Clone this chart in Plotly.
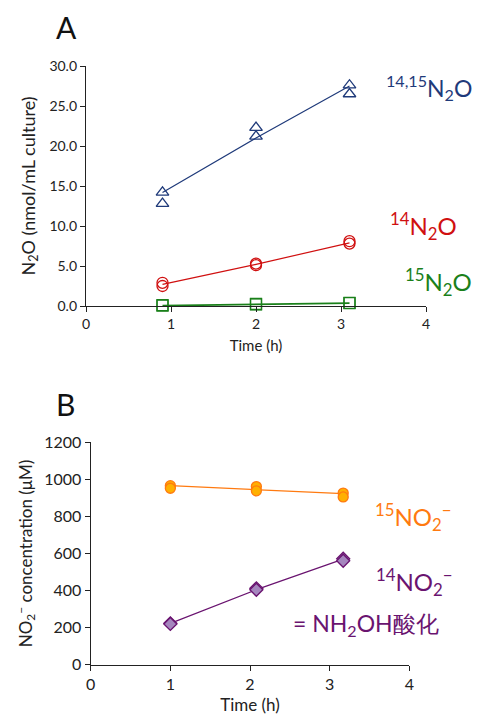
import plotly.graph_objects as go

# ---------------- Data: panel A (N2O) ----------------
time_a = [0.9, 2.0, 3.1]
n2o_1415_rep1 = [14.2, 22.3, 27.6]
n2o_1415_rep2 = [12.8, 21.2, 26.5]
n2o_1415_line = [14.2, 21.0, 27.5]
n2o_14_rep1 = [2.9, 5.3, 8.1]
n2o_14_rep2 = [2.5, 5.1, 7.8]
n2o_14_line = [2.7, 5.2, 7.9]
n2o_15_rep1 = [0.1, 0.25, 0.4]
n2o_15_rep2 = [0.05, 0.2, 0.35]
n2o_15_line = [0.05, 0.2, 0.35]

# ---------------- Data: panel B (NO2-) ----------------
time_b = [1.0, 2.08, 3.17]
no2_15_rep1 = [966, 961, 926]
no2_15_rep2 = [952, 938, 905]
no2_15_line = [966, 944, 923]
no2_14_rep1 = [223, 412, 572]
no2_14_rep2 = [220, 404, 561]
no2_14_line = [223, 405, 570]

x_ticks = [0, 1, 2, 3, 4]
ya_ticks = [0, 5, 10, 15, 20, 25, 30]
yb_ticks = [0, 200, 400, 600, 800, 1000, 1200]

BLUE = "#1F3A7A"
RED = "#D01010"
GREEN = "#1A801A"
ORANGE = "#FF7A10"
ORANGE_FILL = "#FFB000"
PURPLE = "#6A1470"
PURPLE_FILL = "#A586BE"
FONT = "Lato"

# page body has an 8px default margin
OFF = 8
W, H = 483 - OFF, 723 - OFF

fig = go.Figure()

def add_series(x, reps, line, color, symbol, size, xa, ya, fill=None, lw=1.2):
    fig.add_trace(go.Scatter(x=x, y=line, mode="lines", line=dict(color=color, width=lw),
                             xaxis=xa, yaxis=ya, showlegend=False, hoverinfo="skip",
                             cliponaxis=False))
    for r in reps:
        m = dict(symbol=symbol, size=size, color=fill if fill else color,
                 line=dict(color=color, width=1.3))
        fig.add_trace(go.Scatter(x=x, y=r, mode="markers", marker=m, cliponaxis=False,
                                 xaxis=xa, yaxis=ya, showlegend=False))

add_series(time_a, [n2o_1415_rep1, n2o_1415_rep2], n2o_1415_line, BLUE, "triangle-up-open", 11, "x", "y")
add_series(time_a, [n2o_14_rep1, n2o_14_rep2], n2o_14_line, RED, "circle-open", 11, "x", "y")
add_series(time_a, [n2o_15_rep1, n2o_15_rep2], n2o_15_line, GREEN, "square-open", 11, "x", "y", lw=1.8)
add_series(time_b, [no2_15_rep1, no2_15_rep2], no2_15_line, ORANGE, "circle", 10, "x2", "y2", fill=ORANGE_FILL)
add_series(time_b, [no2_14_rep1, no2_14_rep2], no2_14_line, PURPLE, "diamond", 10, "x2", "y2", fill=PURPLE_FILL)

def axis(size):
    return dict(showline=True, linecolor="#222", linewidth=1.3, ticks="outside",
                ticklen=5, tickcolor="#222", showgrid=False, zeroline=False,
                automargin=False, tickfont=dict(family=FONT, size=size, color="#222"))

def dx(a, b):
    return [(a - OFF) / W, (b - OFF) / W]

def dy(top, bottom):
    return [1 - (bottom - OFF) / H, 1 - (top - OFF) / H]

fig.update_layout(
    width=W, height=H, margin=dict(l=0, r=0, t=0, b=0),
    paper_bgcolor="white", plot_bgcolor="white",
    font=dict(family=FONT, color="#222"),
    xaxis=dict(domain=dx(86, 426), range=[0, 4], tickvals=x_ticks, anchor="y",
               title=dict(text="Time (h)", font=dict(size=15), standoff=9), **axis(14)),
    yaxis=dict(domain=dy(66, 306), range=[0, 30], tickvals=ya_ticks, tickformat=".1f", anchor="x",
               title=dict(text="N<sub>2</sub>O (nmol/mL culture)", font=dict(size=18), standoff=9),
               **axis(14)),
    xaxis2=dict(domain=dx(90.7, 409.3), range=[0, 4], tickvals=x_ticks, anchor="y2",
                title=dict(text="Time (h)", font=dict(size=17), standoff=7), **axis(16)),
    yaxis2=dict(domain=dy(442.3, 664.7), range=[0, 1200], tickvals=yb_ticks, anchor="x2",
                title=dict(text="NO<sub>2</sub><sup>−</sup> concentration (μM)", font=dict(size=17), standoff=7),
                **axis(16)),
)

def label(text, xp, yp, color, size, yanchor="middle"):
    fig.add_annotation(text=text, x=(xp - OFF) / W, y=1 - (yp - OFF) / H, xref="paper", yref="paper",
                       showarrow=False, xanchor="left", yanchor=yanchor, borderpad=0,
                       font=dict(family=FONT, size=size, color=color))

label("A", 55, OFF, "#111", 30, yanchor="top")
label("B", 55, 404, "#111", 30)
label("<sup>14,15</sup>N<sub>2</sub>O", 385, 88, BLUE, 23)
label("<sup>14</sup>N<sub>2</sub>O", 389, 226, RED, 24)
label("<sup>15</sup>N<sub>2</sub>O", 404, 282, GREEN, 24)
label("<sup>15</sup>NO<sub>2</sub><sup>−</sup>", 374, 517, ORANGE, 24)
label("<sup>14</sup>NO<sub>2</sub><sup>−</sup>", 375, 582, PURPLE, 24)
label("= NH<sub>2</sub>OH酸化", 292, 624, PURPLE, 23)

fig.write_html("out.html")
